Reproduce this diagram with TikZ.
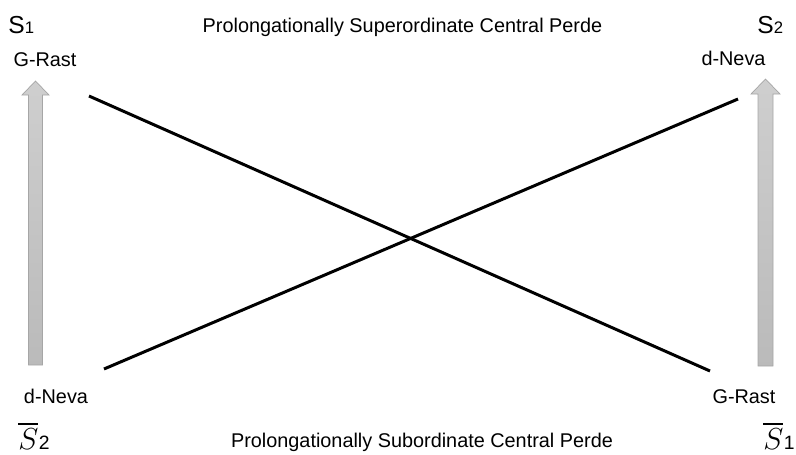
\documentclass[tikz,border=0pt]{standalone}
\usepackage{amsmath}
\usepackage{fontspec}
\setmainfont{Liberation Sans}
\usetikzlibrary{positioning}

\begin{document}
\begin{tikzpicture}[
    x=0.02cm, y=-0.02cm,
    perdelabel/.style={font=\fontsize{11.3}{13}\selectfont, inner sep=0pt, anchor=base},
    caption/.style={font=\fontsize{11.3}{13}\selectfont, inner sep=0pt, anchor=base},
    statelabel/.style={font=\fontsize{14}{16}\selectfont, inner sep=0pt, anchor=base west},
    negstate/.style={font=\fontsize{16.5}{18}\selectfont, inner sep=0pt, anchor=base west},
    graybar/.style={draw=gray!70, line width=0.4pt, top color=gray!38, bottom color=gray!54},
    cross/.style={line width=1.7pt, draw=black}
]
\useasboundingbox (0,0) rectangle (796,454);

\node[caption] (super) at (402.5,32) {Prolongationally Superordinate Central Perde};
\node[caption] (sub) at (422,447) {Prolongationally Subordinate Central Perde};

\node[statelabel] (s1) at (8,33) {S{\fontsize{9.5}{10}\selectfont 1}};
\node[statelabel] (s2) at (757,33) {S{\fontsize{9.5}{10}\selectfont 2}};
\node[negstate] (s2bar) at (18,449) {$\overline{S}$\kern0.3pt{\fontsize{11}{12}\selectfont 2}};
\node[negstate, anchor=base east] (s1bar) at (795,449) {$\overline{S}$\kern0.3pt{\fontsize{11}{12}\selectfont 1}};

\node[perdelabel] (rastA) at (45,66) {G-Rast};
\node[perdelabel] (nevaA) at (733.5,65) {d-Neva};
\node[perdelabel] (nevaB) at (56,403) {d-Neva};
\node[perdelabel] (rastB) at (744,403) {G-Rast};

\coordinate (rastAend) at (89,96);
\coordinate (rastBend) at (710,371);
\coordinate (nevaBend) at (104,369);
\coordinate (nevaAend) at (738,99);

\draw[graybar] (28.5,365) -- (28.5,95) -- (22,95) -- (35.5,81) -- (49,95) -- (42.5,95) -- (42.5,365) -- cycle;
\draw[graybar] (758,366) -- (758,94) -- (751,94) -- (765.5,79) -- (780,94) -- (773,94) -- (773,366) -- cycle;

\draw[cross] (rastAend) -- (rastBend);
\draw[cross] (nevaBend) -- (nevaAend);

\end{tikzpicture}
\end{document}
